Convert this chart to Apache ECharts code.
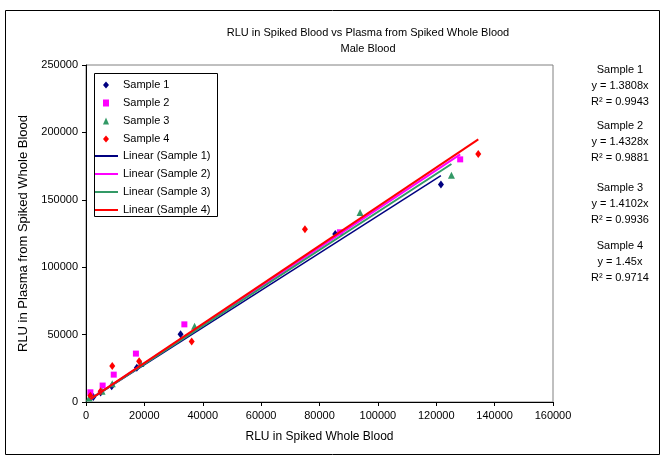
<!DOCTYPE html>
<html>
<head>
<meta charset="utf-8">
<script src="https://cdn.jsdelivr.net/npm/echarts@6/dist/echarts.min.js"></script>
<style>
  html, body { margin: 0; padding: 0; background: #fff; }
  #chart { width: 660px; height: 458px; }
</style>
</head>
<body>
<div id="chart"></div>
<script>
// RLU readings: [whole blood, plasma] per sample
const sample1 = [[2500, 3700], [5000, 7000], [8800, 11600], [17400, 25500], [32400, 50200], [85400, 124600], [121600, 161300]];
const sample2 = [[1500, 7200], [5700, 12200], [9500, 20300], [17100, 35900], [33700, 57600], [87000, 125900], [128200, 180000]];
const sample3 = [[1100, 3000], [5500, 8000], [9000, 13600], [18800, 28500], [37200, 56200], [93900, 140500], [125200, 168200]];
const sample4 = [[1500, 4700], [5000, 7900], [9000, 26700], [18200, 30200], [36200, 44800], [75000, 128100], [134400, 184000]];

// Zero-intercept trendline slopes and fit quality
const slopes = [1.3808, 1.4328, 1.4102, 1.45];
const r2 = ['0.9943', '0.9881', '0.9936', '0.9714'];

const names = ['Sample 1', 'Sample 2', 'Sample 3', 'Sample 4'];
const trendNames = names.map(n => 'Linear (' + n + ')');
const colors = ['#000080', '#FF00FF', '#339966', '#FF0000'];
const symbols = ['diamond', 'rect', 'triangle', 'diamond'];
const symbolSizes = [[6, 8], [6, 6], [7, 7], [6, 8]];
const lineWidths = [1.5, 2, 2, 2];

const samples = [sample1, sample2, sample3, sample4];

const FONT = 'Liberation Sans, Arial, sans-serif';

function trend(points, k) {
  const xs = points.map(p => p[0]);
  const lo = Math.min.apply(null, xs), hi = Math.max.apply(null, xs);
  return [[lo, k * lo], [hi, k * hi]];
}

const scatterSeries = samples.map((pts, i) => ({
  name: names[i],
  type: 'scatter',
  data: pts,
  symbol: symbols[i],
  symbolSize: symbolSizes[i],
  itemStyle: { color: colors[i], opacity: 1 },
  z: 2
}));

const lineSeries = samples.map((pts, i) => ({
  name: trendNames[i],
  type: 'line',
  data: trend(pts, slopes[i]),
  symbol: 'none',
  lineStyle: { color: colors[i], width: lineWidths[i] },
  itemStyle: { color: colors[i] },
  z: 3
}));

// Equation block on the right
const eqTexts = [];
const eqTops = [62, 118, 180, 238];
for (let i = 0; i < 4; i++) {
  eqTexts.push({
    type: 'text',
    x: 620, y: eqTops[i],
    style: {
      text: names[i] + '\ny = ' + slopes[i] + 'x\nR² = ' + r2[i],
      font: '11px ' + FONT,
      fill: '#000',
      align: 'center',
      verticalAlign: 'top',
      lineHeight: 16
    }
  });
}

const legendText = { fontFamily: FONT, fontSize: 11, color: '#000', lineHeight: 14 };

const chart = echarts.init(document.getElementById('chart'), null, { renderer: 'canvas' });
chart.setOption({
  animation: false,
  backgroundColor: '#fff',
  title: {
    text: 'RLU in Spiked Blood vs Plasma from Spiked Whole Blood\nMale Blood',
    left: 363, top: 20, textAlign: 'center',
    textStyle: { fontFamily: FONT, fontSize: 11, fontWeight: 'normal', color: '#000', lineHeight: 16 }
  },
  legend: [{
    orient: 'vertical',
    left: 103, top: 78,
    padding: 0,
    itemGap: 4,
    itemWidth: 6, itemHeight: 7,
    z: 10,
    // small spacer keeps marker labels aligned with the trendline labels
    formatter: name => '{gap|}' + name,
    textStyle: Object.assign({ rich: { gap: { width: 9 } } }, legendText),
    data: names
  }, {
    orient: 'vertical',
    left: 95, top: 149,
    padding: 0,
    itemGap: 4,
    itemWidth: 23, itemHeight: 2,
    icon: 'rect',
    z: 10,
    textStyle: legendText,
    data: trendNames
  }],
  grid: { left: 86, top: 65, width: 467, height: 337, show: true, borderColor: '#808080', borderWidth: 1, backgroundColor: '#fff' },
  xAxis: {
    type: 'value', min: 0, max: 160000, interval: 20000,
    name: 'RLU in Spiked Whole Blood', nameLocation: 'middle', nameGap: 29,
    nameTextStyle: { fontFamily: FONT, fontSize: 12, color: '#000' },
    axisLine: { show: true, lineStyle: { color: '#000' } },
    axisTick: { show: true, length: 4, lineStyle: { color: '#000' } },
    axisLabel: { fontFamily: FONT, fontSize: 11, color: '#000', margin: 8, formatter: v => String(v) },
    splitLine: { show: false }
  },
  yAxis: {
    type: 'value', min: 0, max: 250000, interval: 50000,
    name: 'RLU in Plasma from Spiked Whole Blood', nameLocation: 'middle', nameGap: 47,
    nameTextStyle: { fontFamily: FONT, fontSize: 13, color: '#000' },
    axisLine: { show: true, lineStyle: { color: '#000' } },
    axisTick: { show: true, length: 4, lineStyle: { color: '#000' } },
    axisLabel: { fontFamily: FONT, fontSize: 11, color: '#000', margin: 8, formatter: v => String(v) },
    splitLine: { show: false }
  },
  graphic: [{
    type: 'rect', left: 3, top: 8, z: -10, silent: true,
    shape: { width: 654, height: 444 },
    style: { fill: null, stroke: '#000', lineWidth: 1 }
  }, {
    // legend frame, drawn beneath the legend entries
    type: 'rect', left: 94, top: 73, z: 5, silent: true,
    shape: { width: 123, height: 143 },
    style: { fill: '#fff', stroke: '#000', lineWidth: 1 }
  }].concat(eqTexts),
  series: scatterSeries.concat(lineSeries)
});
</script>
</body>
</html>
